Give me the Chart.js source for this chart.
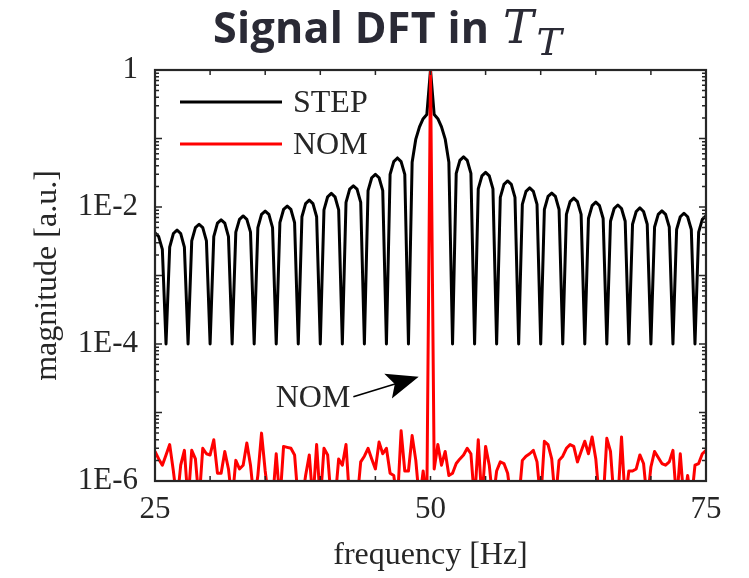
<!DOCTYPE html>
<html>
<head>
<meta charset="utf-8">
<title>Signal DFT in T_T</title>
<script src="https://cdn.jsdelivr.net/npm/chart.js@4.4.1/dist/chart.umd.min.js"></script>
<style>
    html, body { margin: 0; padding: 0; background: #fff; }
    #wrap { position: relative; width: 749px; height: 578px; }
    #chart-title {
        position: absolute; left: 213px; top: -1px;
        font: bold 43px 'Open Sans', sans-serif; line-height: 56px;
        letter-spacing: 0.3px; color: #2a2a35; white-space: nowrap;
    }
    #chart-title .math { font-family: 'DejaVu Serif', serif; font-style: italic; font-weight: normal; font-size: 46px; letter-spacing: 0; margin-left: 2px; }
    #chart-title sub { font-size: 38px; vertical-align: baseline; position: relative; top: 12px; margin-left: 3px; }
    canvas { position: absolute; left: 0; top: 0; }
</style>
</head>
<body>
<div id="wrap">
    <canvas id="dft-chart" width="749" height="578"></canvas>
    <div id="chart-title">Signal DFT in <span class="math">T<sub>T</sub></span></div>
</div>
<script>
// 1. Data
const freqStep = 1 / 3; // DFT bin width [Hz]
const freqBins = Array.from({ length: 151 }, (_, i) => 25 + i * freqStep); // 25 ... 75 Hz

// STEP spectrum, one value per bin
const stepValues = [
    4.2e-3, 3.7e-3, 2.4e-3, 1e-4,
    2.6e-3, 4.1e-3, 4.6e-3, 4.1e-3, 2.6e-3, 1e-4,
    3.2e-3, 5.0e-3, 5.6e-3, 5.0e-3, 3.2e-3, 1e-4,
    3.7e-3, 5.8e-3, 6.5e-3, 5.8e-3, 3.7e-3, 1e-4,
    4.3e-3, 6.6e-3, 7.4e-3, 6.6e-3, 4.3e-3, 1e-4,
    5.0e-3, 7.8e-3, 8.7e-3, 7.8e-3, 5.0e-3, 1e-4,
    5.9e-3, 9.2e-3, 1.03e-2, 9.2e-3, 5.9e-3, 1e-4,
    7.2e-3, 1.12e-2, 1.26e-2, 1.12e-2, 7.2e-3, 1e-4,
    9.1e-3, 1.41e-2, 1.58e-2, 1.41e-2, 9.1e-3, 1e-4,
    1.17e-2, 1.82e-2, 2.04e-2, 1.82e-2, 1.17e-2, 1e-4,
    1.73e-2, 2.67e-2, 3.0e-2, 2.67e-2, 1.73e-2, 1e-4,
    3.0e-2, 4.6e-2, 5.2e-2, 4.6e-2, 3.0e-2, 1e-4,
    0.045, 0.098, 0.148, 0.195, 0.224, 1, 0.224, 0.195, 0.148, 0.098, 0.045, 1e-4,
    3.1e-2, 4.8e-2, 5.4e-2, 4.8e-2, 3.1e-2, 1e-4,
    1.84e-2, 2.85e-2, 3.2e-2, 2.85e-2, 1.84e-2, 1e-4,
    1.38e-2, 2.14e-2, 2.4e-2, 2.14e-2, 1.38e-2, 1e-4,
    1.09e-2, 1.69e-2, 1.9e-2, 1.69e-2, 1.09e-2, 1e-4,
    9.2e-3, 1.43e-2, 1.6e-2, 1.43e-2, 9.2e-3, 1e-4,
    7.8e-3, 1.2e-2, 1.35e-2, 1.2e-2, 7.8e-3, 1e-4,
    6.8e-3, 1.05e-2, 1.18e-2, 1.05e-2, 6.8e-3, 1e-4,
    6.2e-3, 9.5e-3, 1.07e-2, 9.5e-3, 6.2e-3, 1e-4,
    5.6e-3, 8.6e-3, 9.7e-3, 8.6e-3, 5.6e-3, 1e-4,
    5.1e-3, 7.8e-3, 8.8e-3, 7.8e-3, 5.1e-3, 1e-4,
    4.7e-3, 7.2e-3, 8.1e-3, 7.2e-3, 4.7e-3, 1e-4,
    4.3e-3, 6.6e-3, 7.4e-3
];

// NOM spectrum, one value per bin (noise floor + the 50 Hz line)
const nomValues = [
    2.7e-6, 2.1e-6, 1.7e-6, 2.4e-6, 3.4e-6, 1.4e-6, 0.5e-6, 1.7e-6, 2.8e-6, 0.5e-6,
    2.8e-6, 2.1e-6, 0.5e-6, 3.0e-6, 2.5e-6, 2.4e-6, 4.0e-6, 1.3e-6, 1.3e-6, 2.7e-6,
    1.5e-6, 0.5e-6, 2.0e-6, 1.5e-6, 1.7e-6, 3.6e-6, 1.7e-6, 0.5e-6, 1.2e-6, 5.0e-6,
    1.4e-6, 0.5e-6, 0.5e-6, 2.5e-6, 0.5e-6, 3.2e-6, 3.1e-6, 3.0e-6, 2.4e-6, 0.5e-6,
    0.5e-6, 1.2e-6, 2.4e-6, 0.5e-6, 3.4e-6, 0.5e-6, 3.0e-6, 2.4e-6, 0.5e-6, 0.5e-6,
    2.1e-6, 1.7e-6, 3.4e-6, 0.5e-6, 0.5e-6, 0.5e-6, 1.9e-6, 2.3e-6, 3.0e-6, 2.1e-6,
    1.5e-6, 3.7e-6, 2.5e-6, 3.0e-6, 1.3e-6, 1.2e-6, 0.5e-6, 5.4e-6, 1.4e-6, 1.4e-6,
    4.6e-6, 2.0e-6, 0.5e-6, 1.4e-6, 0.5e-6, 1, 1.5e-6, 3.4e-6, 1.7e-6, 2.7e-6,
    1.2e-6, 1.3e-6, 1.8e-6, 2.1e-6, 2.4e-6, 3.0e-6, 2.5e-6, 0.5e-6, 4.0e-6, 0.5e-6,
    3.2e-6, 1.7e-6, 0.5e-6, 1.4e-6, 1.9e-6, 1.8e-6, 1.3e-6, 0.5e-6, 0.5e-6, 0.5e-6,
    2.0e-6, 2.3e-6, 2.5e-6, 2.8e-6, 1.9e-6, 0.5e-6, 3.8e-6, 3.4e-6, 2.1e-6, 0.5e-6,
    2.0e-6, 2.3e-6, 3.0e-6, 3.4e-6, 3.2e-6, 1.9e-6, 2.7e-6, 3.8e-6, 2.5e-6, 4.4e-6,
    2.1e-6, 0.5e-6, 0.5e-6, 4.2e-6, 2.7e-6, 0.5e-6, 0.5e-6, 4.4e-6, 0.5e-6, 1.4e-6,
    1.4e-6, 1.5e-6, 2.4e-6, 1.8e-6, 0.5e-6, 1.6e-6, 2.7e-6, 2.2e-6, 1.8e-6, 1.7e-6,
    1.9e-6, 2.8e-6, 0.5e-6, 2.5e-6, 0.5e-6, 1.2e-6, 0.5e-6, 1.7e-6, 1.8e-6, 2.5e-6,
    2.8e-6
];

const seriesLabels = ['STEP', 'NOM'];
const seriesColors = ['#000000', '#ff0000'];

const xTickLabels = [25, 50, 75];
const yTickValues = [1e-6, 1e-4, 1e-2, 1];
const yTickLabels = ['1E-6', '1E-4', '1E-2', '1'];

// "NOM" arrow annotation, in data units (tail -> tip)
const arrowTail = { x: 43.0, y: 1.7e-5 };
const arrowTip = { x: 48.93, y: 3.33e-5 };
const arrowText = 'NOM';

const serifFont = "'Liberation Serif', 'Times New Roman', serif";
const inkColor = '#262626';

// 2. Plugins: MATLAB style box with inward ticks, legend inside the axes, arrow note
const matlabBox = {
    id: 'matlabBox',
    afterDatasetsDraw(chart) {
        const { ctx, chartArea: a, scales: { x, y } } = chart;
        ctx.save();
        ctx.strokeStyle = inkColor;
        ctx.lineWidth = 1.5;
        ctx.beginPath();
        x.ticks.forEach(t => {
            const px = x.getPixelForValue(t.value);
            ctx.moveTo(px, a.bottom); ctx.lineTo(px, a.bottom - 5);
            ctx.moveTo(px, a.top); ctx.lineTo(px, a.top + 5);
        });
        y.ticks.forEach(t => {
            const py = y.getPixelForValue(t.value);
            const lg = Math.log10(t.value);
            const len = Math.abs(lg - Math.round(lg)) < 1e-6 ? 7 : 4;
            ctx.moveTo(a.left, py); ctx.lineTo(a.left + len, py);
            ctx.moveTo(a.right, py); ctx.lineTo(a.right - len, py);
        });
        ctx.stroke();
        ctx.lineWidth = 2.2;
        ctx.strokeRect(a.left, a.top, a.width, a.height);
        ctx.restore();
    }
};

const insideLegend = {
    id: 'insideLegend',
    afterDatasetsDraw(chart) {
        const { ctx, chartArea: a } = chart;
        ctx.save();
        ctx.font = `32px ${serifFont}`;
        ctx.textBaseline = 'alphabetic';
        seriesLabels.forEach((label, i) => {
            const ds = chart.data.datasets[i];
            const lineY = a.top + 32 + i * 42;
            ctx.strokeStyle = ds.borderColor;
            ctx.lineWidth = ds.borderWidth;
            ctx.beginPath();
            ctx.moveTo(a.left + 25, lineY);
            ctx.lineTo(a.left + 127, lineY);
            ctx.stroke();
            ctx.fillStyle = inkColor;
            ctx.fillText(label, a.left + 138, lineY + 10);
        });
        ctx.restore();
    }
};

const arrowNote = {
    id: 'arrowNote',
    afterDatasetsDraw(chart) {
        const { ctx, scales: { x, y } } = chart;
        const tx = x.getPixelForValue(arrowTail.x), ty = y.getPixelForValue(arrowTail.y);
        const hx = x.getPixelForValue(arrowTip.x), hy = y.getPixelForValue(arrowTip.y);
        const len = Math.hypot(hx - tx, hy - ty);
        const ux = (hx - tx) / len, uy = (hy - ty) / len;
        const nx = -uy, ny = ux;
        ctx.save();
        ctx.strokeStyle = '#000';
        ctx.fillStyle = '#000';
        ctx.lineWidth = 1.6;
        ctx.beginPath();
        ctx.moveTo(tx, ty);
        ctx.lineTo(hx - 24 * ux, hy - 24 * uy);
        ctx.stroke();
        // arrow head
        ctx.beginPath();
        ctx.moveTo(hx, hy);
        ctx.lineTo(hx - 32 * ux + 13 * nx, hy - 32 * uy + 13 * ny);
        ctx.lineTo(hx - 25 * ux, hy - 25 * uy);
        ctx.lineTo(hx - 32 * ux - 13 * nx, hy - 32 * uy - 13 * ny);
        ctx.closePath();
        ctx.fill();
        ctx.font = `32px ${serifFont}`;
        ctx.fillStyle = inkColor;
        ctx.textAlign = 'right';
        ctx.textBaseline = 'alphabetic';
        ctx.fillText(arrowText, tx - 3, ty + 10);
        ctx.restore();
    }
};

// 3. Build the chart
const toPoints = values => freqBins.map((f, i) => ({ x: f, y: values[i] }));

new Chart(document.getElementById('dft-chart'), {
    type: 'line',
    data: {
        datasets: [
            {
                label: seriesLabels[0],
                data: toPoints(stepValues),
                borderColor: seriesColors[0],
                borderWidth: 3,
                borderJoinStyle: 'round',
                pointRadius: 0,
                tension: 0,
                clip: 0,
                order: 2
            },
            {
                label: seriesLabels[1],
                data: toPoints(nomValues),
                borderColor: seriesColors[1],
                borderWidth: 3,
                borderJoinStyle: 'round',
                pointRadius: 0,
                tension: 0,
                clip: 0,
                order: 1
            }
        ]
    },
    options: {
        responsive: false,
        animation: false,
        devicePixelRatio: 1,
        layout: { padding: { left: 0, right: 43, top: 70, bottom: 0 } },
        plugins: {
            legend: { display: false },
            tooltip: { enabled: false },
            title: { display: false }
        },
        scales: {
            x: {
                type: 'linear',
                min: 25,
                max: 75,
                grid: { display: false, drawTicks: false },
                border: { display: false },
                ticks: {
                    stepSize: 5,
                    autoSkip: false,
                    maxRotation: 0,
                    padding: 10,
                    color: inkColor,
                    font: { family: serifFont, size: 31 },
                    callback: v => (xTickLabels.includes(v) ? String(v) : '')
                },
                title: {
                    display: true,
                    text: 'frequency [Hz]',
                    color: inkColor,
                    font: { family: serifFont, size: 32 },
                    padding: { top: 0, bottom: 3 }
                },
                afterFit: s => { s.height = 97; }
            },
            y: {
                type: 'logarithmic',
                min: 1e-6,
                max: 1,
                grid: { display: false, drawTicks: false },
                border: { display: false },
                afterBuildTicks: s => {
                    const ticks = [];
                    for (let e = -6; e <= 0; e++) {
                        for (let m = 1; m <= 9; m++) {
                            const v = m * Math.pow(10, e);
                            if (v <= 1.0000001) ticks.push({ value: v });
                        }
                    }
                    s.ticks = ticks;
                },
                ticks: {
                    autoSkip: false,
                    padding: 17,
                    color: inkColor,
                    font: { family: serifFont, size: 31 },
                    callback: v => {
                        const k = yTickValues.findIndex(t => Math.abs(Math.log10(t) - Math.log10(v)) < 1e-6);
                        return k >= 0 ? yTickLabels[k] : '';
                    }
                },
                title: {
                    display: true,
                    text: 'magnitude [a.u.]',
                    color: inkColor,
                    font: { family: serifFont, size: 32 },
                    padding: { top: 28, bottom: 0 }
                },
                afterFit: s => { s.width = 155; }
            }
        }
    },
    plugins: [matlabBox, insideLegend, arrowNote]
});
</script>
</body>
</html>
